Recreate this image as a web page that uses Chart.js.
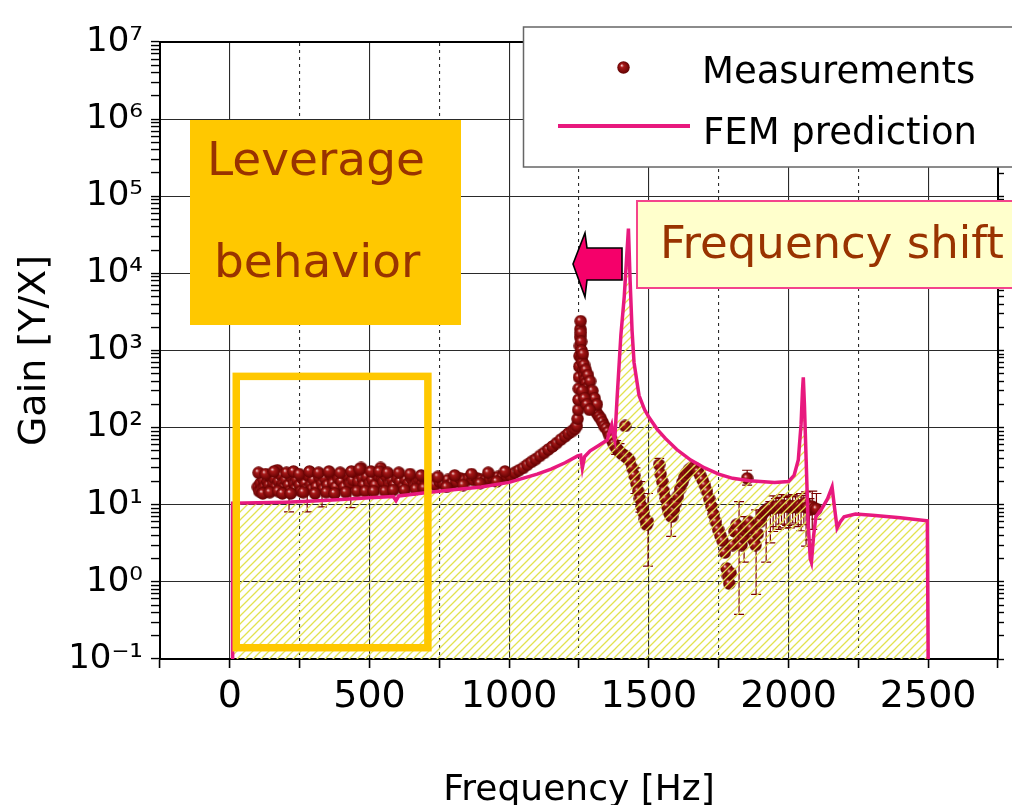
<!DOCTYPE html>
<html><head><meta charset="utf-8">
<script src="https://cdn.jsdelivr.net/npm/chart.js@4.4.1/dist/chart.umd.min.js"></script>
<style>html,body{margin:0;padding:0;background:#fff;overflow:hidden}#wrap{width:1012px;height:805px;position:relative}</style>
</head><body><div id="wrap"><canvas id="c" width="1012" height="805"></canvas></div>
<script>
// ---------- DATA ----------
const seriesNames = ['Measurements', 'FEM prediction'];

const femFreq = [8, 10, 100, 200, 300, 400, 500, 585, 595, 605, 700, 800, 900, 1000, 1100, 1150, 1200, 1245, 1256, 1262, 1270, 1290, 1322, 1351, 1362, 1367, 1372, 1378, 1386, 1400, 1412, 1420, 1427, 1433, 1440, 1447, 1465, 1485, 1501, 1530, 1560, 1600, 1650, 1700, 1750, 1800, 1860, 1900, 1950, 2000, 2020, 2035, 2045, 2050, 2053, 2057, 2063, 2070, 2078, 2082, 2090, 2098, 2120, 2140, 2156, 2165, 2174, 2185, 2199, 2240, 2300, 2400, 2497, 2500];
const femGain = [0.1, 10.5, 10.6, 10.8, 11.2, 11.7, 12.3, 12.8, 11.3, 13.0, 14.3, 15.6, 17, 19.5, 25, 29, 35, 43, 44, 30, 42, 50, 59, 69, 95, 108, 82, 69, 230, 1600, 5000, 15000, 38000, 8000, 1800, 700, 260, 170, 135, 95, 72, 52, 38, 30, 25, 22, 20.5, 20, 19.5, 20, 24, 38, 110, 300, 450, 200, 40, 6, 2, 1.8, 4, 7, 9, 12, 17, 9, 5, 6, 7, 7.6, 7.3, 6.8, 6.2, 0.1];

const measFreq = [100,105,110,115,120,125,130,135,140,145,150,155,160,165,170,175,180,185,190,195,200,210,215,220,230,235,240,250,255,260,270,275,280,290,295,300,310,320,330,335,340,350,360,370,380,390,400,410,420,430,440,450,460,470,475,480,490,500,510,520,530,540,545,550,560,570,580,590,600,610,620,630,640,650,660,670,680,690,700,
710,720,735,750,765,780,795,810,825,840,855,870,885,900,915,930,945,960,975,990,1005,1020,1035,1050,1065,1080,1095,1110,1125,1140,1155,1170,1185,1200,1212,1225,1235,1242,
1245,1247,1248,1249,1250,1251,1252,1253,1254,1255,1256,1257,1258,1259,1260,1262,1265,1268,1272,1276,1280,1285,1290,1295,1300,1305,1310,1316,1322,1328,1334,1340,1347,1354,1360,1367,1374,1381,1388,1395,1402,1410,1415,1418,1425,1432,1440,1448,1455,1462,1468,1474,1480,1486,1492,1497,
1537,1542,1548,1554,1560,1566,1572,1578,1583,1590,1597,1604,1612,1620,1628,1636,1644,1652,1660,1668,1676,1684,1692,1700,1708,1716,1724,1732,1740,1748,1756,1764,1772,1778,1783,1788,1793,1800,1807,1814,1820,1826,1832,1838,1844,1850,1852,1858,1866,1874,1882,1890,1898,1906,1914,1922,1930,1940,1950,1960,1970,1980,1990,2000,2010,2020,2030,2040,2050,2060,2068,2076,2084,2092,2100,
103,118,128,143,158,173,188,203,218,228,248,263,285,305,318,345,355,375,395,415,435,455,465,485,505,515,535,555,565,585,605,625,645,665,685,695,
745,775,805,835,865,895,925,955,985,
1264,1268,1274,1282,1290,1298,1306,1314,1262,1270,1278,1288];
const measGain = [17,15,19,16,21,17,15,20,18,23,16,19,22,17,28,20,16,24,19,17,21,18,15,23,19,16,21,18,15,22,19,16,24,18,16,21,17,23,19,16,22,18,25,19,17,22,20,17,24,19,21,26,20,30,22,18,23,19,21,18,24,30,22,20,23,19,21,18,22,20,17,21,19,22,18,20,21,19,20,
19,21,18,20,19,21,19,20,22,21,22,21,22,21,21,22,22,23,23,24,24,26,28,30,33,36,39,43,47,52,57,63,70,77,84,90,96,105,
130,170,230,320,450,620,850,1150,1500,1900,2400,1700,1300,1000,800,700,560,480,420,380,330,290,250,210,190,175,165,150,140,130,118,105,98,88,78,70,62,56,52,49,46,44,105,42,40,37,30,24,19,15,12,9.5,8,6.5,5.5,6,
33,25,20,15,12,9.5,8,7.2,7,8.5,10.5,13,16,19.5,23,26,28.5,30,30.5,29.5,27,24,21,18,15,12,9.5,7.5,6,4.8,4,3.4,2.4,1.5,1.2,0.95,1.3,3,4.5,5.5,4.5,3.5,3,3.8,4.6,5.2,22,6,5,3.5,3,4.2,6,7.5,8.2,8.6,9,9.5,9,9.6,9.2,9.8,9.4,9.8,9.2,9.6,9.3,9.8,9.5,10.5,9.2,8.6,9.5,9,8.8,
26,14,25,14.5,27,15,14,26,14,27,25,14.5,27,14,26,14.5,27,14,26,14.5,27,15,29,15,27,15,27,15,26,15.5,26,15.5,25,16,24,16.5,
23,17,24,18,25,19,26,20,27,
900,650,560,480,400,300,240,200,300,240,200,170];

const errFreq = [212, 277, 330, 433, 1383, 1395, 1452, 1470, 1497, 1537, 1580, 1823, 1841, 1852, 1884, 1920, 1935, 1945, 1955, 1965, 1975, 1985, 1995, 2005, 2015, 2025, 2035, 2045, 2055, 2063, 2075, 2085, 2100];
const errLow  = [8.1, 8.1, 9.4, 9.2, 45, 43, 14, 8, 1.6, 25, 3.9, 0.38, 1.8, 18, 0.69, 1.8, 3.2, 4.5, 5.2, 4.8, 5.6, 5, 5.4, 5, 5.8, 5.5, 5.2, 4.6, 5.5, 2.9, 3.5, 4.8, 6.5];
const errHigh = [24, 26, 24, 25, 68, 62, 30, 20, 14, 40, 12, 11, 7, 28, 8.6, 9, 11, 13, 12, 12.5, 13.5, 12.5, 13, 12.8, 13.5, 13, 12.6, 14, 13.2, 14.7, 12, 15, 14];

const xTickValues = [0, 500, 1000, 1500, 2000, 2500];
const xTickLabels = ['0', '500', '1000', '1500', '2000', '2500'];
const yDecades = [0.1, 1, 10, 100, 1000, 1e4, 1e5, 1e6, 1e7];
const yTickLabels = ['10\u207B\u00B9', '10\u2070', '10\u00B9', '10\u00B2', '10\u00B3', '10\u2074', '10\u2075', '10\u2076', '10\u2077'];
const yMinorMult = [2, 3, 4, 5, 6, 7, 8, 9];
const noteTexts = { lev1: 'Leverage', lev2: 'behavior', shift: 'Frequency shift' };

// ---------- STYLE ----------
const FONT = "'DejaVu Sans', sans-serif";
const PINK = '#E8197E';
const BROWN = '#993300';

const dotImg = (() => {
  const c = document.createElement('canvas'); c.width = c.height = 13;
  const g = c.getContext('2d');
  const gr = g.createRadialGradient(4.6, 4.3, 0.3, 6.5, 6.5, 6.5);
  gr.addColorStop(0, '#F0C8C8'); gr.addColorStop(0.25, '#A81818'); gr.addColorStop(1, '#5E0000');
  g.fillStyle = gr; g.beginPath(); g.arc(6.5, 6.5, 6.2, 0, Math.PI * 2); g.fill();
  return c;
})();

const hatch = (() => {
  const c = document.createElement('canvas'); c.width = c.height = 8;
  const g = c.getContext('2d');
  g.strokeStyle = 'rgb(226,226,80)'; g.lineWidth = 1.3;
  g.beginPath();
  g.moveTo(0, 8); g.lineTo(8, 0);
  g.moveTo(-2, 2); g.lineTo(2, -2);
  g.moveTo(6, 10); g.lineTo(10, 6);
  g.stroke();
  return g.createPattern(c, 'repeat');
})();

function yTicks(scale) {
  const t = [];
  yDecades.forEach((d, i) => {
    t.push({ value: d });
    if (i < yDecades.length - 1) yMinorMult.forEach(m => t.push({ value: d * m }));
  });
  scale.ticks = t;
}
const isDecade = v => yDecades.some(d => Math.abs(d - v) / d < 1e-6);
const isMajorX = v => Math.abs(v % 500) < 1e-6;
const isEdgeX = v => v === -250 || v === 2750;

// ---------- PLUGIN (error bars + annotations) ----------
const annot = {
  id: 'annot',
  beforeDatasetsDraw(chart) {
    const { ctx, chartArea: a, scales: { x, y } } = chart;
    ctx.save();
    ctx.beginPath(); ctx.rect(a.left, a.top, a.right - a.left, a.bottom - a.top); ctx.clip();
    ctx.strokeStyle = '#7A0000'; ctx.lineWidth = 1.2;
    errFreq.forEach((f, i) => {
      const px = x.getPixelForValue(f), y1 = y.getPixelForValue(errLow[i]), y2 = y.getPixelForValue(errHigh[i]);
      ctx.beginPath();
      ctx.moveTo(px, y1); ctx.lineTo(px, y2);
      ctx.moveTo(px - 5, y1); ctx.lineTo(px + 5, y1);
      ctx.moveTo(px - 5, y2); ctx.lineTo(px + 5, y2);
      ctx.stroke();
    });
    ctx.restore();
  },
  afterDatasetsDraw(chart) {
    const { ctx, scales: { x, y } } = chart;
    ctx.save();
    // region outline
    const rx1 = x.getPixelForValue(23), rx2 = x.getPixelForValue(709);
    const ry1 = y.getPixelForValue(462), ry2 = y.getPixelForValue(0.14);
    ctx.strokeStyle = '#FFC800'; ctx.lineWidth = 7.5;
    ctx.strokeRect(rx1, ry1, rx2 - rx1, ry2 - ry1);

    // Leverage behaviour box
    ctx.fillStyle = '#FFC800';
    ctx.fillRect(190, 120, 271, 205);
    ctx.fillStyle = BROWN; ctx.font = "47px " + FONT; ctx.textAlign = 'left'; ctx.textBaseline = 'alphabetic';
    ctx.fillText(noteTexts.lev1, 207, 175);
    ctx.fillText(noteTexts.lev2, 214, 277);

    // arrow
    ctx.beginPath();
    ctx.moveTo(622, 248); ctx.lineTo(587, 248); ctx.lineTo(585, 233); ctx.lineTo(573, 264);
    ctx.lineTo(585, 297); ctx.lineTo(587, 280); ctx.lineTo(622, 280); ctx.closePath();
    ctx.fillStyle = '#F5006A'; ctx.fill();
    ctx.strokeStyle = '#000'; ctx.lineWidth = 1.6; ctx.stroke();

    // Frequency shift box
    ctx.fillStyle = '#FFFFCC'; ctx.fillRect(637, 201, 390, 87);
    ctx.strokeStyle = '#F4448C'; ctx.lineWidth = 2; ctx.strokeRect(637, 201, 390, 87);
    ctx.fillStyle = BROWN; ctx.font = "45px " + FONT;
    ctx.fillText(noteTexts.shift, 660, 258);

    // legend
    ctx.fillStyle = '#fff'; ctx.fillRect(523.5, 27, 500, 140);
    ctx.strokeStyle = '#666'; ctx.lineWidth = 1.5; ctx.strokeRect(523.5, 27, 500, 140);
    ctx.drawImage(dotImg, 617, 61);
    ctx.strokeStyle = PINK; ctx.lineWidth = 4;
    ctx.beginPath(); ctx.moveTo(558, 126); ctx.lineTo(690, 126); ctx.stroke();
    ctx.fillStyle = '#000'; ctx.font = "37px " + FONT;
    ctx.fillText(seriesNames[0], 702, 83);
    ctx.fillText(seriesNames[1], 703, 144);
    ctx.restore();
  }
};

// ---------- CHART ----------
new Chart(document.getElementById('c'), {
  type: 'scatter',
  data: {
    datasets: [
      {
        label: seriesNames[1],
        data: femFreq.map((f, i) => ({ x: f, y: femGain[i] })),
        showLine: true, borderColor: PINK, borderWidth: 3.5, pointRadius: 0,
        fill: 'start', backgroundColor: hatch, tension: 0, order: 0
      },
      {
        label: seriesNames[0],
        data: measFreq.map((f, i) => ({ x: f, y: measGain[i] })),
        showLine: false, pointStyle: dotImg, pointRadius: 6.5,
        backgroundColor: '#800000', borderColor: '#600000', order: 1
      }
    ]
  },
  options: {
    responsive: false, animation: false, events: [],
    layout: { padding: 0 },
    plugins: { legend: { display: false }, tooltip: { enabled: false } },
    scales: {
      x: {
        type: 'linear', position: 'bottom', min: -250, max: 2750,
        ticks: {
          stepSize: 250, autoSkip: false, maxRotation: 0, padding: 6, color: '#000',
          font: { family: FONT, size: 38 },
          callback: v => { const i = xTickValues.indexOf(v); return i >= 0 ? xTickLabels[i] : ''; }
        },
        grid: {
          color: c => (c.tick && isMajorX(c.tick.value) && !isEdgeX(c.tick.value)) ? '#2a2a2a' : 'rgba(0,0,0,0)',
          lineWidth: 1.1, tickColor: '#000', tickLength: 9, tickWidth: 1.6
        },
        border: { color: '#000', width: 2 },
        title: { display: true, text: 'Frequency [Hz]', color: '#000', font: { family: FONT, size: 36, lineHeight: 0.8 }, padding: { top: 0, bottom: 0 } },
        afterFit: s => { s.height = 146; }
      },
      x2: {
        type: 'linear', position: 'top', min: -250, max: 2750,
        ticks: { display: false, stepSize: 250, autoSkip: false },
        grid: {
          drawTicks: false, lineWidth: 1.1,
          color: c => (c.tick && !isMajorX(c.tick.value) && !isEdgeX(c.tick.value)) ? '#2a2a2a' : 'rgba(0,0,0,0)'
        },
        border: { display: true, color: '#000', width: 2, dash: [3, 4] },
        afterFit: s => { s.height = 42; }
      },
      y: {
        type: 'logarithmic', position: 'left', min: 0.1, max: 1e7,
        afterBuildTicks: yTicks,
        ticks: {
          autoSkip: false, padding: 8, color: '#000', font: { family: FONT, size: 34 },
          callback: v => { const i = yDecades.findIndex(d => Math.abs(d - v) / d < 1e-6); return i >= 0 ? yTickLabels[i] : ''; }
        },
        grid: {
          color: c => (c.tick && isDecade(c.tick.value)) ? '#2a2a2a' : 'rgba(0,0,0,0)',
          lineWidth: 1.1, tickColor: '#000', tickLength: 9, tickWidth: 1.4
        },
        border: { color: '#000', width: 2 },
        title: { display: true, text: 'Gain [Y/X]', color: '#000', font: { family: FONT, size: 38 }, padding: { top: 12, bottom: 0 } },
        afterFit: s => { s.width = 160; }
      },
      y2: {
        type: 'logarithmic', position: 'right', min: 0.1, max: 1e7,
        afterBuildTicks: yTicks,
        ticks: { display: false },
        grid: { drawOnChartArea: false, tickColor: '#000', tickLength: 6, tickWidth: 1.4 },
        border: { color: '#000', width: 2 },
        afterFit: s => { s.width = 14; }
      }
    }
  },
  plugins: [annot]
});
</script>
</body></html>
